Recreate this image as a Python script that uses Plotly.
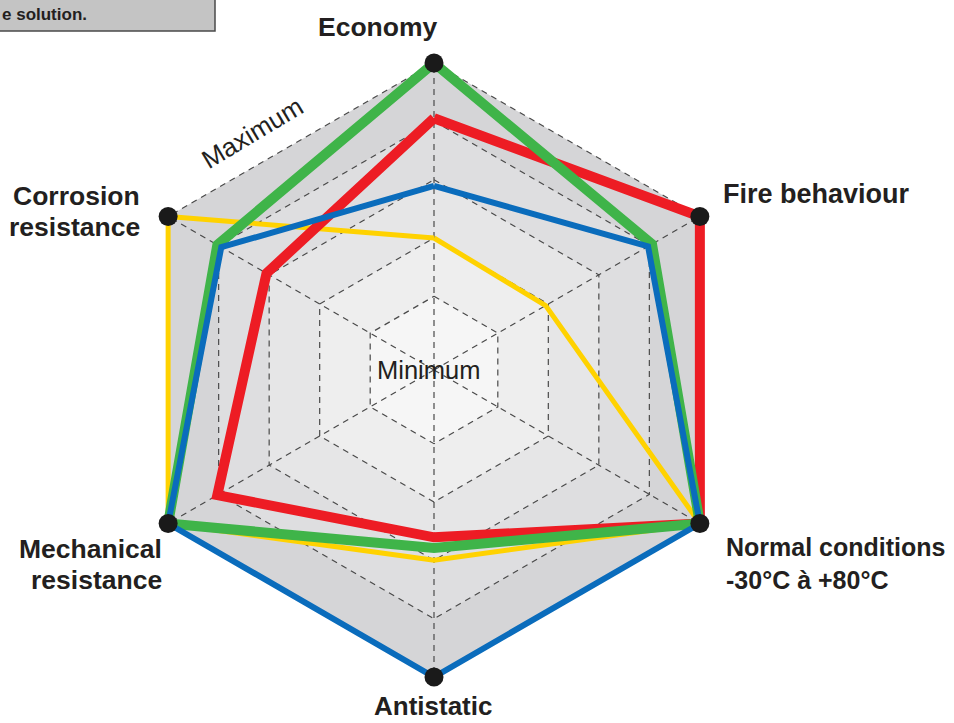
import plotly.graph_objects as go

# ---------------- data ----------------
categories = ["Economy", "Fire behaviour", "Normal conditions",
              "Antistatic", "Mechanical resistance", "Corrosion resistance"]
ring_levels = [0.24, 0.43, 0.62, 0.81, 1.0]

yellow_vals = [0.43, 0.42, 1.0, 0.62, 1.0, 1.0]
red_vals = [0.82, 1.0, 1.0, 0.545, 0.815, 0.63]
green_vals = [1.0, 0.82, 1.0, 0.58, 1.0, 0.815]
blue_vals = [0.60, 0.805, 1.0, 1.0, 1.0, 0.80]

band_colors = ["#f6f6f6", "#eeeeee", "#e6e6e7", "#dedee0", "#d5d5d7"]  # inner -> outer

theta_closed = categories + [categories[0]]

fig = go.Figure()

# shaded bands (outer first)
for lvl, col in reversed(list(zip(ring_levels, band_colors))):
    fig.add_trace(go.Scatterpolar(
        r=[lvl] * 7, theta=theta_closed, mode="lines", fill="toself",
        fillcolor=col, line=dict(width=0, color=col), hoverinfo="skip",
        showlegend=False))

# dashed rings
for lvl in ring_levels:
    fig.add_trace(go.Scatterpolar(
        r=[lvl] * 7, theta=theta_closed, mode="lines",
        line=dict(color="#4a4a4a", width=1.2, dash="6px,5px"),
        hoverinfo="skip", showlegend=False))

# dashed spokes
for c in categories:
    fig.add_trace(go.Scatterpolar(
        r=[0, 1.0], theta=[c, c], mode="lines",
        line=dict(color="#4a4a4a", width=1.2, dash="6px,5px"),
        hoverinfo="skip", showlegend=False))

# series (bottom -> top)
series = [
    (yellow_vals, "#ffd200", 5),
    (red_vals, "#ed1c24", 10),
    (green_vals, "#3fb449", 10),
    (blue_vals, "#0a6cbc", 6),
]
for vals, col, w in series:
    fig.add_trace(go.Scatterpolar(
        r=vals + [vals[0]], theta=theta_closed, mode="lines",
        line=dict(color=col, width=w), hoverinfo="skip", showlegend=False,
        cliponaxis=False))

# vertex dots
fig.add_trace(go.Scatterpolar(
    r=[1.0] * 6, theta=categories, mode="markers",
    marker=dict(color="#1a1a1a", size=19), hoverinfo="skip", showlegend=False,
    cliponaxis=False))

RMAX = 1.06
cx, cy, R = 434, 370, 307 * RMAX
W, H = 954, 723

fig.update_layout(
    width=W, height=H,
    margin=dict(l=0, r=0, t=0, b=0),
    paper_bgcolor="white", plot_bgcolor="white",
    polar=dict(
        domain=dict(x=[(cx - R) / W, (cx + R) / W],
                    y=[(H - cy - R) / H, (H - cy + R) / H]),
        bgcolor="rgba(0,0,0,0)",
        gridshape="linear",
        radialaxis=dict(range=[0, RMAX], visible=False, showgrid=False),
        angularaxis=dict(rotation=90, direction="clockwise",
                         categoryorder="array", categoryarray=categories,
                         showgrid=False, showline=False,
                         showticklabels=False, ticks=""),
    ),
)

FAM = "Arial, Liberation Sans, sans-serif"
TXT = "#231f20"


def px(x):
    return x / W


def py(y):
    return 1 - y / H


# (text, x, y, xanchor, size)
label_lines = [
    ("Economy", 378, 27, "center", 26.5),
    ("Fire behaviour", 721, 194, "left", 27),
    ("Normal conditions", 724, 547, "left", 25),
    ("-30°C à +80°C", 724, 580, "left", 25),
    ("Antistatic", 433, 706, "center", 26),
    ("Mechanical", 164, 549, "right", 26.5),
    ("resistance", 164, 580, "right", 26.5),
    ("Corrosion", 142, 196, "right", 26.5),
    ("resistance", 142, 227, "right", 26.5),
]
for t, x, y, xa, s in label_lines:
    fig.add_annotation(xref="paper", yref="paper", showarrow=False,
                       text="<b>" + t + "</b>", x=px(x), y=py(y),
                       xanchor=xa, yanchor="middle",
                       font=dict(family=FAM, size=s, color=TXT))

fig.add_annotation(xref="paper", yref="paper", x=px(428), y=py(370), text="Minimum",
                   showarrow=False, xanchor="center", yanchor="middle",
                   font=dict(family=FAM, size=25.5, color=TXT))
fig.add_annotation(xref="paper", yref="paper", x=px(252), y=py(133), text="Maximum",
                   showarrow=False, xanchor="center", yanchor="middle", textangle=-31,
                   font=dict(family=FAM, size=26, color=TXT))

# cropped gray box at top-left
fig.add_shape(type="rect", xref="paper", yref="paper",
              x0=px(-5), x1=px(215), y0=py(31), y1=py(-5),
              fillcolor="#c4c4c4", line=dict(color="#4a4a4a", width=1.5))
fig.add_annotation(xref="paper", yref="paper", x=px(0), y=py(14), text="<b>e solution.</b>",
                   showarrow=False, xanchor="left", yanchor="middle",
                   font=dict(family=FAM, size=17, color=TXT))

fig.write_html("out.html", config={"displayModeBar": False},
               post_script="document.body.style.margin='0px';document.body.style.padding='0px';")
